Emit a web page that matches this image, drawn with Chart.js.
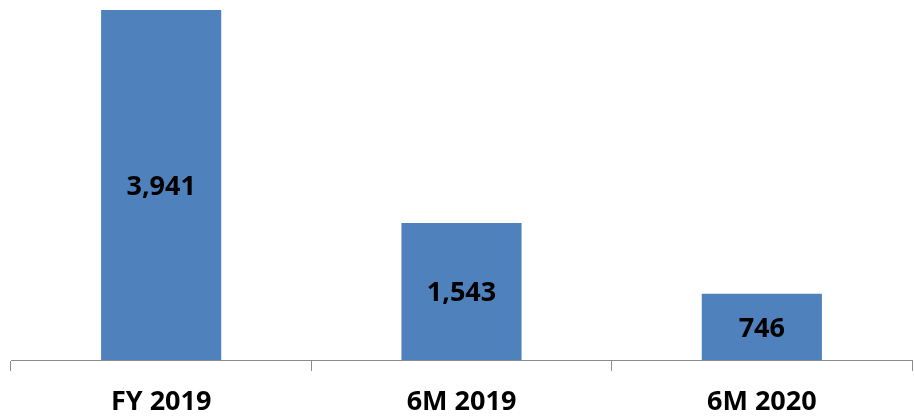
<!DOCTYPE html>
<html>
<head>
<meta charset="utf-8">
<script src="https://cdn.jsdelivr.net/npm/chart.js@4.4.0/dist/chart.umd.min.js"></script>
<style>
  body { margin: 0; background: #fff; }
  #wrap { width: 914px; height: 418px; }
</style>
</head>
<body>
<div id="wrap"><canvas id="bar" width="914" height="418"></canvas></div>
<script>
// data
const categories = ["FY 2019", "6M 2019", "6M 2020"];
const values = [3941, 1543, 746];

// colors
const blue = "#4f81bd";
const axisGrey = "#8c8c8c";
const font = "'Open Sans', 'DejaVu Sans', sans-serif";

// value labels in the middle of each bar
const midLabels = {
  id: "midLabels",
  afterDatasetsDraw(chart) {
    const ctx = chart.ctx;
    const meta = chart.getDatasetMeta(0);
    ctx.save();
    ctx.font = "bold 27px " + font;
    ctx.fillStyle = "#000";
    ctx.textAlign = "center";
    ctx.textBaseline = "middle";
    meta.data.forEach((bar, i) => {
      const p = bar.getProps(["x", "y", "base"], true);
      ctx.fillText(values[i].toLocaleString("en-US"), p.x, (p.y + p.base) / 2 + 2);
    });
    ctx.restore();
  },
};

new Chart(document.getElementById("bar"), {
  type: "bar",
  data: {
    labels: categories,
    datasets: [
      {
        data: values,
        backgroundColor: blue,
        borderWidth: 0,
        categoryPercentage: 0.4,
        barPercentage: 1,
      },
    ],
  },
  options: {
    responsive: false,
    animation: false,
    layout: {
      padding: { left: 11, right: 2, top: 10, bottom: 0 },
    },
    scales: {
      x: {
        afterFit: (scale) => {
          scale.height = 58;
        },
        grid: {
          offset: true,
          drawOnChartArea: false,
          drawTicks: true,
          tickLength: 11,
          color: axisGrey,
        },
        border: { color: axisGrey, width: 1 },
        ticks: {
          color: "#000",
          padding: 15,
          font: { family: font, size: 27, weight: "bold" },
        },
      },
      y: {
        display: false,
        min: 0,
        max: Math.max(...values),
      },
    },
    plugins: {
      legend: { display: false },
      tooltip: { enabled: false },
    },
  },
  plugins: [midLabels],
});
</script>
</body>
</html>
